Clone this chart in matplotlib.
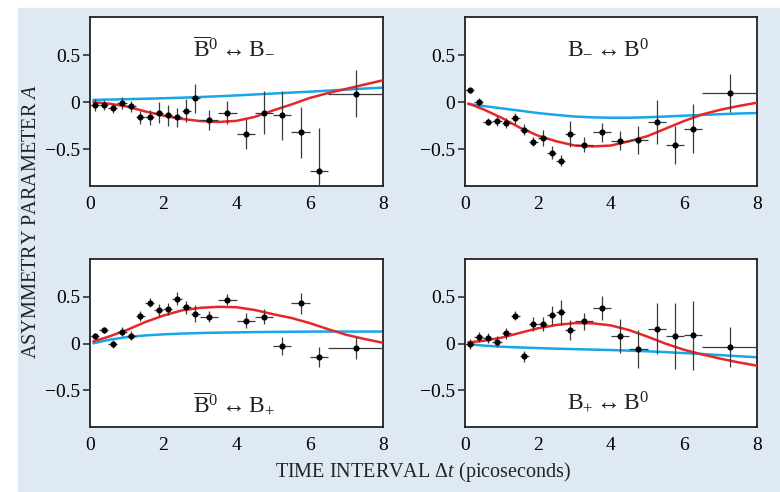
import matplotlib
matplotlib.use("Agg")
import matplotlib.pyplot as plt
from matplotlib.patches import Rectangle

plt.rcParams['font.family'] = ['Liberation Serif', 'DejaVu Serif']
plt.rcParams['mathtext.fontset'] = 'custom'
plt.rcParams['mathtext.rm'] = 'Liberation Serif'
plt.rcParams['mathtext.it'] = 'Liberation Serif:italic'
plt.rcParams['mathtext.bf'] = 'Liberation Serif:bold'

# ---------------- data ----------------
titles = [r'$\overline{\mathrm{B}}^{0}\leftrightarrow\mathrm{B}_{-}$',
          r'$\mathrm{B}_{-}\leftrightarrow\mathrm{B}^{0}$',
          r'$\overline{\mathrm{B}}^{0}\leftrightarrow\mathrm{B}_{+}$',
          r'$\mathrm{B}_{+}\leftrightarrow\mathrm{B}^{0}$']

bin_centers = [0.125, 0.375, 0.625, 0.875, 1.125, 1.375, 1.625, 1.875,
               2.125, 2.375, 2.625, 2.875, 3.25, 3.75, 4.25, 4.75,
               5.25, 5.75, 6.25, 7.25]
bin_halfwidths = [0.125] * 12 + [0.25] * 7 + [0.75]

# panel 1: Bbar0 <-> B-
p1_y = [-0.03, -0.03, -0.065, -0.01, -0.045, -0.16, -0.16, -0.11, -0.14, -0.16,
        -0.09, 0.04, -0.19, -0.11, -0.34, -0.11, -0.14, -0.32, -0.73, 0.09]
p1_err = [0.06, 0.05, 0.05, 0.06, 0.06, 0.07, 0.08, 0.11, 0.11, 0.10,
          0.12, 0.15, 0.11, 0.12, 0.16, 0.23, 0.26, 0.27, 0.46, 0.25]
# panel 2: B- <-> B0
p2_y = [0.125, 0.0, -0.205, -0.2, -0.22, -0.17, -0.29, -0.42, -0.38, -0.535,
        -0.62, -0.34, -0.45, -0.32, -0.41, -0.40, -0.21, -0.455, -0.28, 0.095]
p2_err = [0.03, 0.04, 0.04, 0.05, 0.05, 0.06, 0.06, 0.05, 0.08, 0.07,
          0.06, 0.14, 0.08, 0.10, 0.10, 0.15, 0.23, 0.20, 0.26, 0.20]
# panel 3: Bbar0 <-> B+
p3_y = [0.08, 0.145, -0.005, 0.13, 0.085, 0.295, 0.44, 0.36, 0.37, 0.48,
        0.39, 0.32, 0.29, 0.47, 0.245, 0.29, -0.025, 0.43, -0.14, -0.045]
p3_err = [0.03, 0.035, 0.04, 0.05, 0.05, 0.05, 0.05, 0.06, 0.06, 0.07,
          0.07, 0.09, 0.06, 0.06, 0.08, 0.08, 0.10, 0.11, 0.11, 0.12]
# panel 4: B+ <-> B0
p4_y = [-0.005, 0.07, 0.06, 0.02, 0.11, 0.30, -0.135, 0.21, 0.21, 0.305,
        0.335, 0.145, 0.24, 0.38, 0.08, -0.055, 0.16, 0.08, 0.09, -0.035]
p4_err = [0.05, 0.05, 0.05, 0.06, 0.06, 0.05, 0.06, 0.07, 0.07, 0.10,
          0.13, 0.11, 0.09, 0.13, 0.18, 0.20, 0.27, 0.35, 0.37, 0.21]

curve_t = [0.1, 0.5, 1.0, 1.5, 2.0, 2.5, 3.0, 3.5, 4.0, 4.5, 5.0, 5.5,
           6.0, 6.5, 7.0, 7.5, 8.0]
p1_red = [0.0, -0.014, -0.045, -0.097, -0.142, -0.177, -0.20, -0.21, -0.198,
          -0.156, -0.087, -0.024, 0.045, 0.097, 0.142, 0.188, 0.233]
p1_blue = [0.024, 0.028, 0.032, 0.037, 0.042, 0.048, 0.055, 0.063, 0.072,
           0.082, 0.092, 0.102, 0.112, 0.123, 0.134, 0.145, 0.155]
p2_red = [-0.015, -0.075, -0.165, -0.27, -0.355, -0.415, -0.46, -0.47, -0.46,
          -0.415, -0.36, -0.28, -0.2, -0.13, -0.08, -0.04, -0.005]
p2_blue = [-0.02, -0.04, -0.065, -0.09, -0.115, -0.135, -0.152, -0.161, -0.165,
           -0.165, -0.16, -0.152, -0.143, -0.135, -0.127, -0.12, -0.115]
p3_red = [0.025, 0.074, 0.145, 0.23, 0.30, 0.355, 0.383, 0.394, 0.39, 0.36,
          0.315, 0.275, 0.22, 0.155, 0.095, 0.05, 0.01]
p3_blue = [0.005, 0.04, 0.07, 0.088, 0.1, 0.108, 0.114, 0.118, 0.121, 0.124,
           0.126, 0.128, 0.129, 0.13, 0.13, 0.13, 0.13]
p4_red = [0.015, 0.03, 0.065, 0.115, 0.165, 0.2, 0.22, 0.218, 0.195, 0.145,
          0.075, 0.0, -0.065, -0.115, -0.16, -0.2, -0.235]
p4_blue = [-0.005, -0.02, -0.032, -0.04, -0.047, -0.053, -0.058, -0.063, -0.068,
           -0.074, -0.081, -0.09, -0.1, -0.11, -0.122, -0.134, -0.145]

x_ticks = [0, 2, 4, 6, 8]
y_ticks = [-0.5, 0, 0.5]
y_ticklabels = ['\u22120.5', '0', '0.5']

panels = [
    (p1_y, p1_err, p1_red, p1_blue, (0.49, 0.815)),
    (p2_y, p2_err, p2_red, p2_blue, (0.49, 0.815)),
    (p3_y, p3_err, p3_red, p3_blue, (0.49, 0.135)),
    (p4_y, p4_err, p4_red, p4_blue, (0.49, 0.145)),
]

# ---------------- figure ----------------
fig = plt.figure(figsize=(7.8, 4.92), dpi=100, facecolor='white')
fig.patches.append(Rectangle((18 / 780, 0), 1, 1 - 8 / 492,
                             transform=fig.transFigure, color='#dee9f4',
                             zorder=-10))

positions = [
    [90 / 780, 1 - 186 / 492, 293 / 780, 169 / 492],
    [465 / 780, 1 - 186 / 492, 292 / 780, 169 / 492],
    [90 / 780, 1 - 427 / 492, 293 / 780, 168 / 492],
    [465 / 780, 1 - 427 / 492, 292 / 780, 168 / 492],
]

red = '#e8262a'
blue = '#17a6e8'

for i, (pos, (py, perr, pred, pblue, tpos)) in enumerate(zip(positions, panels)):
    ax = fig.add_axes(pos)
    ax.set_facecolor('white')
    ax.plot(curve_t, pblue, color=blue, lw=1.8, zorder=2)
    ax.plot(curve_t, pred, color=red, lw=1.8, zorder=3)
    ax.errorbar(bin_centers, py, xerr=bin_halfwidths, yerr=perr, fmt='o',
                color='black', ecolor='#3a3a3a', elinewidth=0.9, capsize=0,
                markersize=3.4, zorder=4)
    ax.set_xlim(0, 8)
    ax.set_ylim(-0.89, 0.905)
    ax.set_xticks(x_ticks)
    ax.set_xticklabels([str(v) for v in x_ticks])
    ax.set_xticks([0, 8], minor=True)
    ax.set_yticks(y_ticks)
    ax.set_yticklabels(y_ticklabels)
    ax.tick_params(axis='x', which='major', length=0, pad=7, labelsize=14)
    ax.tick_params(axis='x', which='minor', length=4, width=1.2,
                   direction='out', color='#222222')
    ax.tick_params(axis='y', which='major', length=5, width=1.1,
                   direction='out', pad=2, labelsize=14, color='#222222')
    for s in ax.spines.values():
        s.set_linewidth(1.3)
        s.set_color('#222222')
    ax.text(tpos[0], tpos[1], titles[i], transform=ax.transAxes,
            ha='center', va='center', fontsize=17, color='#222222')

fig.text(423 / 780, 1 - 472 / 492, r'TIME INTERVAL $\Delta t$ (picoseconds)',
         ha='center', va='center', fontsize=14.5, color='#222222')
fig.text(32 / 780, 1 - 222 / 492, r'ASYMMETRY PARAMETER $A$',
         ha='center', va='center', rotation=90, fontsize=14.5, color='#222222')

fig.savefig('out.png', dpi=100)
